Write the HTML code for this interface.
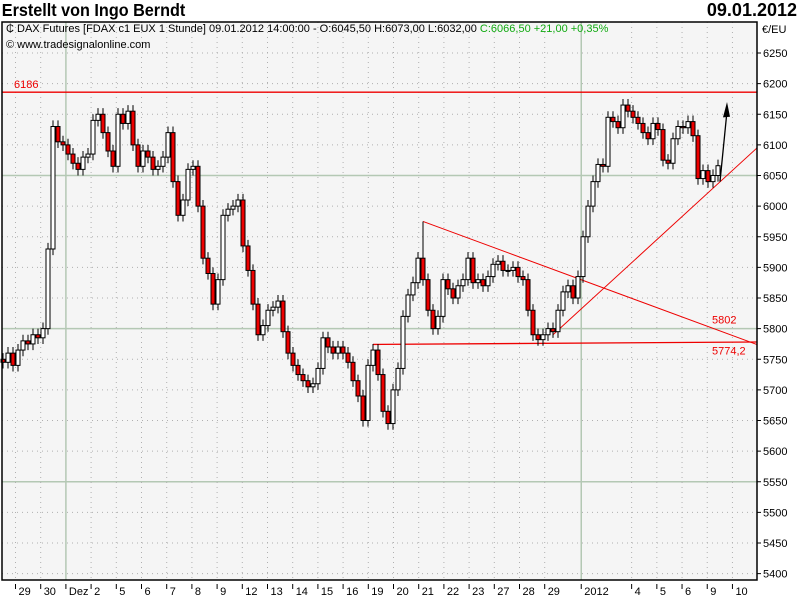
<!DOCTYPE html>
<html><head><meta charset="utf-8"><style>
body{margin:0;background:#fff;width:800px;height:600px;overflow:hidden;font-family:"Liberation Sans",sans-serif}
svg{display:block}
</style></head><body>
<svg id="chart" width="800" height="600" xmlns="http://www.w3.org/2000/svg">
<text x="2" y="16" font-size="18" font-weight="bold" fill="#000" transform="scale(0.9,1)">Erstellt von Ingo Berndt</text>
<text x="797" y="16" font-size="18" font-weight="bold" text-anchor="end">09.01.2012</text>
<rect x="2" y="22" width="755" height="558" fill="#f5f5f5" stroke="none"/>
<g id="grid"></g>
<g id="lines"></g>
<g id="candles"></g>
<g id="axes"></g>
<rect x="2" y="22" width="755" height="558" fill="none" stroke="#000" stroke-width="1.5"/>
<text x="6" y="32" font-size="11">&#x20B5; DAX Futures [FDAX c1 EUX  1 Stunde] 09.01.2012 14:00:00 - O:6045,50 H:6073,00 L:6032,00 <tspan fill="#1a1">C:6066,50 +21,00 +0,35%</tspan></text>
<text x="6" y="48" font-size="11">© www.tradesignalonline.com</text>
<text x="762" y="33" font-size="11">€/EU</text>
</svg>
<script>
const yTicks=[6250,6200,6150,6100,6050,6000,5950,5900,5850,5800,5750,5700,5650,5600,5550,5500,5450,5400];
const xLabels=["29","30","Dez","2","5","6","7","8","9","12","13","14","15","16","19","20","21","22","23","27","28","29","2012","4","5","6","9","10"];
const xLabelDay=[0,1,2,3,4,5,6,7,8,9,10,11,12,13,14,15,16,17,18,19,20,21,22.45,24.45,25.45,26.45,27.45,28.45];
const closes=[5745,5760,5740,5765,5780,5775,5790,5785,5800,5930,6130,6105,6100,6085,6070,6060,6080,6085,6140,6150,6120,6090,6065,6150,6135,6155,6100,6065,6090,6080,6060,6065,6080,6120,6040,5985,6010,6060,6065,6000,5915,5890,5840,5880,5985,5995,6000,6010,5935,5895,5840,5790,5805,5830,5835,5845,5795,5760,5740,5725,5715,5705,5710,5735,5785,5770,5760,5770,5760,5745,5715,5690,5650,5740,5765,5725,5665,5645,5700,5735,5820,5855,5875,5915,5880,5830,5800,5820,5880,5865,5850,5870,5880,5915,5875,5880,5870,5885,5905,5910,5895,5895,5900,5885,5880,5830,5790,5782,5790,5800,5795,5830,5860,5870,5850,5885,5950,6000,6040,6068,6065,6145,6138,6128,6165,6155,6145,6135,6120,6110,6135,6125,6075,6070,6110,6130,6128,6138,6115,6045,6058,6040,6050,6066];
const firstOpen=5750;
const level6186=6186;
const triStart={bar:84,price:5975};
const triEndPrice=5774;
const supportPrice=5774.2;
const trendStart={bar:110,price:5790};
const trendEndPrice=6095;
const NS='http://www.w3.org/2000/svg';
const PL=2,PR=757,PT=22,PB=580;
const y=p=>53+(6250-p)*0.6125;
const xDay=d=>15.5+d*25.2;
const xBar=i=>3+i*(715/(closes.length-1));
function mk(tag,attrs,parent){const e=document.createElementNS(NS,tag);for(const k in attrs)e.setAttribute(k,attrs[k]);document.getElementById(parent).appendChild(e);return e;}
// grid
yTicks.forEach((t,i)=>{
 const solid=(t===6050||t===5800||t===5550);
 const g=mk('line',{x1:PL,x2:PR,y1:y(t),y2:y(t),stroke:solid?'#b4c8b4':'#b0b0b0','stroke-width':solid?1.5:1,'stroke-dasharray':solid?'':'1,4'},'grid');
 
 
 const tk=mk('line',{x1:PR,x2:PR+4,y1:y(t),y2:y(t),stroke:'#000'},'axes');
 
 
 const tx=mk('text',{x:PR+6,y:y(t)+4,'font-size':11},'axes');
 tx.textContent=t;
 
 
});
xLabels.forEach((l,i)=>{
 const xx=xDay(xLabelDay[i]);
 const solid=(l==='Dez'||l==='2012');
 const g=mk('line',{x1:xx,x2:xx,y1:PT,y2:PB,stroke:solid?'#b4c8b4':'#b0b0b0','stroke-width':solid?1.5:1,'stroke-dasharray':solid?'':'1,4'},'grid');
 
 
 const tk=mk('line',{x1:xx,x2:xx,y1:PB+4,y2:PB+9,stroke:'#000'},'axes');
 
 
 const tx=mk('text',{x:xx+3,y:PB+15,'font-size':11},'axes');
 tx.textContent=l;
 
 
});
// analysis lines
let e=mk('line',{x1:PL,x2:PR,y1:y(level6186),y2:y(level6186),stroke:'#e00','stroke-width':1.3},'lines');


e=mk('text',{x:14,y:y(level6186)-4,'font-size':11,fill:'#e00'},'lines');e.textContent='6186';


e=mk('line',{x1:xBar(triStart.bar),y1:y(triStart.price),x2:PR,y2:y(triEndPrice),stroke:'#e00','stroke-width':1},'lines');


e=mk('line',{x1:xBar(triStart.bar),y1:y(triStart.price),x2:xBar(triStart.bar),y2:y(5880),stroke:'#000','stroke-width':1},'lines');


e=mk('line',{x1:xBar(74),y1:y(supportPrice),x2:PR,y2:y(supportPrice+4),stroke:'#e00','stroke-width':1.3},'lines');


e=mk('line',{x1:xBar(trendStart.bar),y1:y(trendStart.price),x2:PR,y2:y(trendEndPrice),stroke:'#e00','stroke-width':1},'lines');


e=mk('text',{x:712,y:y(5802)-4,'font-size':11,fill:'#e00'},'lines');e.textContent='5802';


e=mk('text',{x:712,y:y(supportPrice)+10,'font-size':11,fill:'#e00'},'lines');e.textContent='5774,2';


// candles
let prev=firstOpen;
closes.forEach((c,i)=>{
 const o=prev;prev=c;
 const xx=xBar(i);
 const hi=Math.max(o,c)+10,lo=Math.min(o,c)-10;
 const w=mk('line',{x1:xx,x2:xx,y1:y(hi),y2:y(lo),stroke:'#000','stroke-width':1},'candles');
 
 
 const top=y(Math.max(o,c)),h=Math.max(1,Math.abs(y(o)-y(c)));
 const b=mk('rect',{x:xx-2,y:top,width:4,height:h,fill:c>=o?'#fff':'#e00',stroke:'#000','stroke-width':1},'candles');
 
 
});
// arrow
e=mk('path',{d:`M${xBar(closes.length-1)+2},${y(6040)} L727,${y(6155)}`,stroke:'#000','stroke-width':1.3,fill:'none'},'lines');


e=mk('path',{d:`M723,${y(6145)} L727,${y(6170)} L730,${y(6146)} Z`,fill:'#000'},'lines');


</script>
</body></html>
